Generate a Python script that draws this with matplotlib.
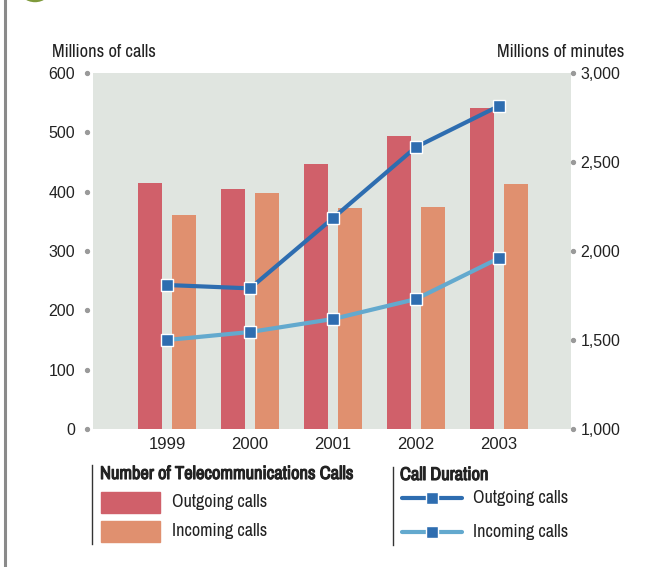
import matplotlib
matplotlib.use("Agg")
import matplotlib.pyplot as plt
import matplotlib.patheffects as pe
import numpy as np
from matplotlib.lines import Line2D
from matplotlib.patches import Rectangle, Circle


years = ["1999", "2000", "2001", "2002", "2003"]
calls_out = [415, 404, 447, 494, 541]
calls_in = [361, 398, 372, 374, 413]
minutes_out = [1809, 1790, 2185, 2584, 2815]
minutes_in = [1500, 1545, 1618, 1730, 1960]

W, H = 663, 567
BG = "#E0E5E0"
C_OUT_BAR = "#D0606A"
C_IN_BAR = "#E0906F"
C_OUT_LINE = "#2E6DB0"
C_IN_LINE = "#63A9CE"
C_TEXT = "#222222"
C_DOT = "#9A9A9A"

NARROW = ["Archivo Narrow", "Liberation Sans", "DejaVu Sans"]
REG = ["Liberation Sans", "DejaVu Sans"]
FAUX_BOLD = [pe.withStroke(linewidth=0.8, foreground=C_TEXT)]


def fx(px):
    return px / W


def fy(py):
    return 1 - py / H


fig = plt.figure(figsize=(W / 100, H / 100), dpi=100)
ax = fig.add_axes([fx(93), fy(429), (571 - 93) / W, (429 - 73) / H])
ax.set_facecolor(BG)

x = np.arange(len(years))
bw = 0.29
off = 0.205
ax.bar(x - off, calls_out, bw, color=C_OUT_BAR, zorder=2)
ax.bar(x + off, calls_in, bw, color=C_IN_BAR, zorder=2)
ax.set_xlim(-0.892, 4.867)
ax.set_ylim(0, 600)
ax.set_yticks(range(0, 601, 100))
ax.set_xticks(x)
ax.set_xticklabels(years, fontsize=12, family=REG, color=C_TEXT)
for s in ax.spines.values():
    s.set_visible(False)
ax.spines["left"].set_position(("outward", 6 * 0.72))
ax.tick_params(axis="x", length=0, pad=6)
ax.tick_params(axis="y", length=0, pad=8.5, labelsize=11.5, labelcolor=C_TEXT)
for lab in ax.get_yticklabels():
    lab.set_family(REG)

ax2 = ax.twinx()
ax2.plot(x, minutes_out, color=C_OUT_LINE, lw=3, marker="s", ms=9,
         mfc=C_OUT_LINE, mec="white", mew=1, zorder=3)
ax2.plot(x, minutes_in, color=C_IN_LINE, lw=3, marker="s", ms=9,
         mfc=C_OUT_LINE, mec="white", mew=1, zorder=3)
ax2.set_ylim(1000, 3000)
ax2.set_yticks(range(1000, 3001, 500))
ax2.set_yticklabels([f"{v:,}" for v in range(1000, 3001, 500)])
for s in ax2.spines.values():
    s.set_visible(False)
ax2.spines["right"].set_position(("outward", 2 * 0.72))
ax2.tick_params(axis="y", length=0, pad=5.5, labelsize=11.5, labelcolor=C_TEXT)
for lab in ax2.get_yticklabels():
    lab.set_family(REG)

# small grey dots as tick marks
for t in ax.yaxis.get_major_ticks():
    ln = t.tick1line
    ln.set_marker("o")
    ln.set_markersize(3)
    ln.set_markerfacecolor(C_DOT)
    ln.set_markeredgecolor(C_DOT)
for t in ax2.yaxis.get_major_ticks():
    ln = t.tick2line
    ln.set_marker("o")
    ln.set_markersize(3)
    ln.set_markerfacecolor(C_DOT)
    ln.set_markeredgecolor(C_DOT)

fig.text(fx(52), fy(52), "Millions of calls", family=NARROW, fontsize=13.3,
         color=C_TEXT, ha="left", va="center")
fig.text(fx(624), fy(52), "Millions of minutes", family=NARROW, fontsize=13.3,
         color=C_TEXT, ha="right", va="center")

# legend: number of calls
fig.add_artist(Line2D([fx(92), fx(92)], [fy(465), fy(544)], color="#333333", lw=1))
fig.text(fx(100), fy(474), "Number of Telecommunications Calls", family=NARROW,
         fontsize=13.3, color=C_TEXT, ha="left", va="center", path_effects=FAUX_BOLD)
for (py, col, lab) in [(492, C_OUT_BAR, "Outgoing calls"), (521, C_IN_BAR, "Incoming calls")]:
    fig.add_artist(Rectangle((fx(101), fy(py + 21)), 59 / W, 21 / H, color=col,
                             transform=fig.transFigure))
    fig.text(fx(172), fy(py + 10), lab, family=NARROW, fontsize=13,
             color=C_TEXT, ha="left", va="center")

# legend: call duration
fig.add_artist(Line2D([fx(393), fx(393)], [fy(467), fy(545)], color="#333333", lw=1))
fig.text(fx(400), fy(475), "Call Duration", family=NARROW, fontsize=13.3,
         color=C_TEXT, ha="left", va="center", path_effects=FAUX_BOLD)
for (py, col, lab) in [(498, C_OUT_LINE, "Outgoing calls"), (532, C_IN_LINE, "Incoming calls")]:
    fig.add_artist(Line2D([fx(402), fx(462)], [fy(py), fy(py)], color=col, lw=3,
                          solid_capstyle="round"))
    fig.add_artist(Line2D([fx(432)], [fy(py)], marker="s", ms=8.5, mfc=C_OUT_LINE,
                          mec="white", mew=1, lw=0))
    fig.text(fx(473), fy(py), lab, family=NARROW, fontsize=13,
             color=C_TEXT, ha="left", va="center")

# page frame pieces
fig.add_artist(Line2D([fx(5), fx(5)], [0, 1], color="#8A8A8A", lw=2.2))
fig.add_artist(Circle((fx(35), fy(-12)), 15 / W, transform=fig.transFigure,
                      fill=False, ec="#7F9A3C", lw=2))

fig.savefig("out.png", dpi=100)
